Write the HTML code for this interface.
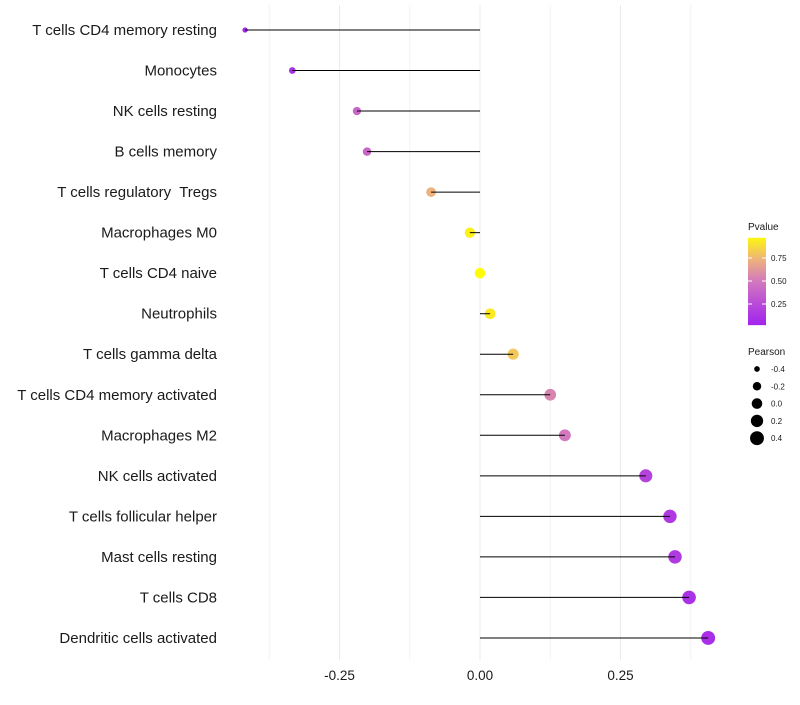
<!DOCTYPE html>
<html><head><meta charset="utf-8"><style>
body{margin:0;background:#fff;font-family:"Liberation Sans",sans-serif}
text{white-space:pre}
</style></head><body>
<svg id="c" width="800" height="700" xmlns="http://www.w3.org/2000/svg" font-family="Liberation Sans, sans-serif"></svg>
<script>
const categories=["T cells CD4 memory resting","Monocytes","NK cells resting","B cells memory","T cells regulatory  Tregs","Macrophages M0","T cells CD4 naive","Neutrophils","T cells gamma delta","T cells CD4 memory activated","Macrophages M2","NK cells activated","T cells follicular helper","Mast cells resting","T cells CD8","Dendritic cells activated"];
const pearson=[-0.418,-0.334,-0.219,-0.201,-0.087,-0.018,0.0,0.018,0.059,0.125,0.151,0.295,0.338,0.347,0.372,0.406];
const pvalues=[0.05,0.1,0.4,0.4,0.75,0.95,0.99,0.93,0.82,0.55,0.5,0.2,0.15,0.15,0.1,0.08];
const xTicks=[-0.25,0,0.25];
const xTickLabels=["-0.25","0.00","0.25"];
const legendP=[0.25,0.5,0.75];
const legendPLabels=["0.25","0.50","0.75"];
const legendR=[-0.4,-0.2,0,0.2,0.4];
const legendRLabels=["-0.4","-0.2","0.0","0.2","0.4"];

const svg=document.getElementById('c');const NS="http://www.w3.org/2000/svg";
function mk(t,a,p){const e=document.createElementNS(NS,t);for(const k in a)e.setAttribute(k,a[k]);(p||svg).appendChild(e);return e;}
const x=v=>480+v*562;
const y=i=>30+i*40.53;
const rad=v=>Math.sqrt(Math.max(5,28+50*v));
const stops=[[0,[160,32,240]],[0.5,[210,120,190]],[0.75,[238,178,125]],[1,[255,255,0]]];
function col(p){const t=Math.max(0,Math.min(1,p));let k=0;while(k<stops.length-2&&t>stops[k+1][0])k++;
const [p0,a]=stops[k],[p1,b]=stops[k+1];const f=(t-p0)/(p1-p0);
return `rgb(${a.map((c,i)=>Math.round(c+(b[i]-c)*f)).join(',')})`;}
[-0.375,-0.25,-0.125,0,0.125,0.25,0.375].forEach(v=>{const g=mk('line',{x1:x(v),x2:x(v),y1:5,y2:660,stroke:Number.isInteger(v*4)?'#ebebeb':'#f4f4f4','stroke-width':1});

});
categories.forEach((c,i)=>{
 const t=mk('text',{x:217,y:y(i)+5,'text-anchor':'end','font-size':15,fill:'#1a1a1a'});t.textContent=c;
 
 
 const pt=mk('circle',{cx:x(pearson[i]),cy:y(i),r:rad(pearson[i]),fill:col(pvalues[i])});
 
 
 const l=mk('line',{x1:x(0),x2:x(pearson[i]),y1:y(i),y2:y(i),stroke:'#000','stroke-width':1});
 
 
});
xTicks.forEach((v,i)=>{const t=mk('text',{x:x(v),y:680,'text-anchor':'middle','font-size':13.5,fill:'#1a1a1a'});t.textContent=xTickLabels[i];

});
const pt=mk('text',{x:748,y:230,'font-size':10,fill:'#1a1a1a'});pt.textContent='Pvalue';


const defs=mk('defs',{});const gr=mk('linearGradient',{id:'g',x1:0,y1:1,x2:0,y2:0},defs);
[0.02,0.25,0.5,0.75,0.97].forEach((p,i)=>mk('stop',{offset:i/4,'stop-color':col(p)},gr));
const py=p=>327-p*92;
const bar=mk('rect',{x:748,y:py(0.97),width:18,height:py(0.02)-py(0.97),fill:'url(#g)'});


legendP.forEach((p,i)=>{mk('line',{x1:748,x2:752,y1:py(p),y2:py(p),stroke:'#fff'});mk('line',{x1:762,x2:766,y1:py(p),y2:py(p),stroke:'#fff'});
const t=mk('text',{x:771,y:py(p)+3,'font-size':8,fill:'#1a1a1a'});t.textContent=legendPLabels[i];

});
const rt=mk('text',{x:748,y:355,'font-size':10,fill:'#1a1a1a'});rt.textContent='Pearson';


legendR.forEach((v,i)=>{const cy=369+i*17.3;const c=mk('circle',{cx:757,cy:cy,r:rad(v),fill:'#000'});


const t=mk('text',{x:771,y:cy+3,'font-size':8,fill:'#1a1a1a'});t.textContent=legendRLabels[i];

});
</script>
</body></html>
